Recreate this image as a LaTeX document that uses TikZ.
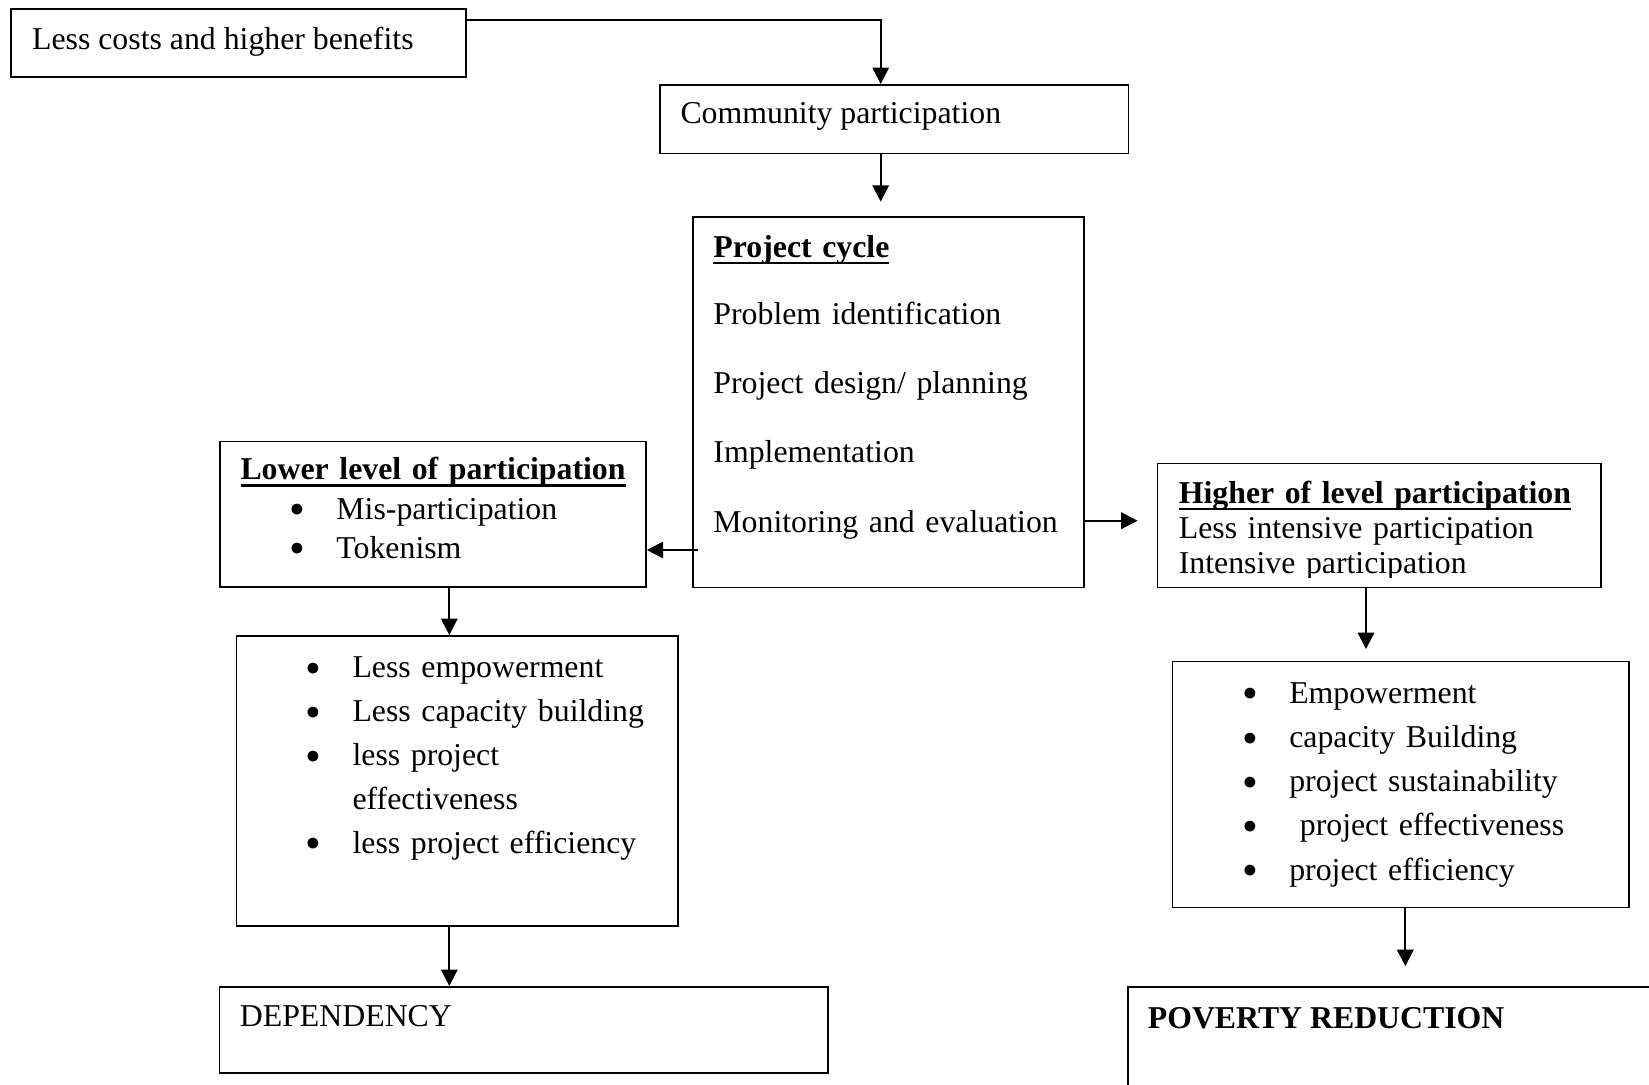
\documentclass[tikz,border=0pt]{standalone}
\usepackage{fontspec}
\setmainfont{Liberation Serif}
\usetikzlibrary{arrows.meta}
\newcommand{\bul}{\makebox[17.6pt][l]{\smash{\raisebox{-2.1pt}{\fontsize{17}{17}\selectfont\textbullet}}}}
\newcommand{\ulx}[1]{\setbox0\hbox{#1}\rlap{\rule[-2.5pt]{\wd0}{0.9pt}}\box0}
\begin{document}
\begin{tikzpicture}[
    x=0.3774pt, y=-0.3774pt,
    boxstyle/.style={rectangle, draw, line width=0.65pt, inner sep=0pt, anchor=north west},
    arrowstyle/.style={draw, line width=0.8pt, -{Triangle[width=6.2pt,length=6.2pt]}},
    labeltext/.style={anchor=base west, inner sep=0pt, font=\fontsize{12}{14.4}\selectfont},
    listtext/.style={anchor=base west, inner sep=0pt, align=left, text width=5.3cm}
]
\useasboundingbox (0,0) rectangle (1649,1085);
\clip (0,0) rectangle (1649,1085);

% boxes
\node (cost) [boxstyle, minimum width=171.6pt, minimum height=25.55pt] at (10.3,8.3) {};
\node (comm) [boxstyle, minimum width=176.9pt, minimum height=25.93pt] at (659,84) {};
\node (cycle) [boxstyle, minimum width=147.8pt, minimum height=139.9pt] at (691.8,216) {};
\node (lower) [boxstyle, minimum width=160.8pt, minimum height=54.84pt] at (219,440.7) {};
\node (lowout) [boxstyle, minimum width=166.7pt, minimum height=109.4pt] at (235.7,635) {};
\node (dep) [boxstyle, minimum width=229.5pt, minimum height=32.57pt] at (218.7,986) {};
\node (higher) [boxstyle, minimum width=167.3pt, minimum height=46.8pt] at (1156.7,462.7) {};
\node (highout) [boxstyle, minimum width=172.3pt, minimum height=92.84pt] at (1171.7,660.7) {};
\node (pov) [boxstyle, minimum width=216.3pt, minimum height=54.3pt] at (1127,986) {};

% texts
\node (cost-t) [labeltext] at (31.6,49.3) {Less costs and higher benefits};
\node (comm-t) [labeltext] at (680,124) {Community participation};
\node (cycle-t) [listtext, font=\fontsize{12}{26.2}\selectfont] at (712.9,257.3)
  {\ulx{\textbf{Project cycle}}\\[-1pt]
   Problem identification\\
   Project design/ planning\\
   Implementation\\
   Monitoring and evaluation};
\node (lower-t) [listtext, font=\fontsize{12}{14.8}\selectfont] at (240,480)
  {\ulx{\textbf{Lower level of participation}}\\
   \hspace*{18.6pt}\bul Mis-participation\\
   \hspace*{18.6pt}\bul Tokenism};
\node (lowout-t) [listtext, font=\fontsize{12}{16.57}\selectfont] at (305.4,677.7)
  {\bul Less empowerment\\
   \bul Less capacity building\\
   \bul less project\\
   \hspace*{17.6pt}effectiveness\\
   \bul less project efficiency};
\node (dep-t) [labeltext] at (239.4,1026) {DEPENDENCY};
\begin{scope}
  \clip (higher.north west) rectangle ([yshift=4pt]higher.south east);
  \node (higher-t) [listtext, font=\fontsize{12}{13.2}\selectfont] at (1178.3,503.3)
    {\ulx{\textbf{Higher of level participation}}\\
     Less intensive participation\\
     Intensive participation};
\end{scope}
\node (highout-t) [listtext, font=\fontsize{12}{16.68}\selectfont] at (1242.1,703.3)
  {\bul Empowerment\\
   \bul capacity Building\\
   \bul project sustainability\\
   \bul\ project effectiveness\\
   \bul project efficiency};
\node (pov-t) [labeltext, font=\fontsize{12}{14.4}\selectfont\bfseries] at (1147.3,1028.3) {POVERTY REDUCTION};

% connectors
\coordinate (topcol) at (880.7,20);
\coordinate (rightrow) at (0,520.7);
\coordinate (leftrow) at (0,550);
\coordinate (leftcol) at (449.3,0);
\coordinate (rightcol) at (1366,0);
\coordinate (farcol) at (1405.3,0);

\draw [arrowstyle] (cost.east |- topcol) -| (comm.north -| topcol);
\draw [arrowstyle, shorten >=5.4pt] (comm.south -| topcol) -- (cycle.north -| topcol);
\draw [arrowstyle, shorten >=7.2pt] (cycle.east |- rightrow) -- (higher.west |- rightrow);
\draw [arrowstyle, shorten <=-2.2pt] (cycle.west |- leftrow) -- (lower.east |- leftrow);
\draw [arrowstyle] (lower.south -| leftcol) -- (lowout.north -| leftcol);
\draw [arrowstyle] (lowout.south -| leftcol) -- (dep.north -| leftcol);
\draw [arrowstyle, shorten >=4.4pt] (higher.south -| rightcol) -- (highout.north -| rightcol);
\draw [arrowstyle, shorten >=7.5pt] (highout.south -| farcol) -- (pov.north -| farcol);
\end{tikzpicture}
\end{document}
